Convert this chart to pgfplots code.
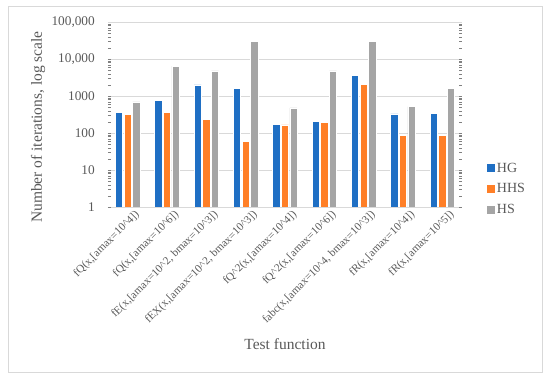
\documentclass[border=0pt]{standalone}
\usepackage{fontspec}
\setmainfont{Liberation Serif}
\usepackage{pgfplots}
\pgfplotsset{compat=1.18}
\definecolor{cHG}{HTML}{1F6FC4}
\definecolor{cHHS}{HTML}{FF7F27}
\definecolor{cHS}{HTML}{A5A5A5}
\definecolor{txt}{HTML}{595959}
\definecolor{grd}{HTML}{D9D9D9}
\begin{document}
\begin{tikzpicture}
\useasboundingbox (0,0) rectangle (550pt,379pt);
\draw[grd, line width=0.8pt] (8pt,7pt) rectangle (542pt,373pt);
\begin{axis}[
  at={(108pt,172pt)}, anchor=south west,
  scale only axis, width=354pt, height=185pt,
  ymode=log, ymin=1, ymax=100000,
  xmin=-0.5, xmax=8.5,
  ybar=1.3pt, bar width=7.3pt,
  axis line style={draw=none},
  major tick length=0pt,
  ymajorgrids, grid style={grd, line width=0.8pt},
  ytick={1,10,100,1000,10000,100000},
  yticklabels={1,10,100,1000,{10,000},{100,000}},
  xtick={0,...,8},
  xticklabels={{fQ(x,[amax=10\^{}4])},{fQ(x,[amax=10\^{}6])},{fE(x,[amax=10\^{}2, bmax=10\^{}3])},{fEX(x,[amax=10\^{}2, bmax=10\^{}3])},{fQ\^{}2(x,[amax=10\^{}4])},{fQ\^{}2(x,[amax=10\^{}6])},{fabc(x,[amax=10\^{}4, bmax=10\^{}3])},{fR(x,[amax=10\^{}4])},{fR(x,[amax=10\^{}5])}},
  x tick label style={rotate=45, anchor=north east, font=\fontsize{11.2}{12}\selectfont, inner sep=0pt, xshift=3pt, yshift=-6pt, text=txt},
  y tick label style={font=\fontsize{13.3}{15}\selectfont, inner sep=0pt, xshift=-13pt, text=txt},
  xlabel={Test function},
  ylabel={Number of iterations, log scale},
  xlabel style={at={(rel axis cs:0.5,-0.7405)}, anchor=center, font=\fontsize{15.5}{17}\selectfont, text=txt},
  ylabel style={at={(rel axis cs:-0.1977,0.432)}, anchor=center, font=\fontsize{15.5}{17}\selectfont, text=txt},
  legend style={at={(rel axis cs:1.07,0.097)}, anchor=west, draw=none, fill=none, font=\fontsize{14}{15}\selectfont, text=txt, row sep=6pt, inner sep=0pt},
  legend cell align=left,
  legend image code/.code={\fill[#1, draw=none] (0pt,-4pt) rectangle (8pt,4pt);},
  every axis plot/.append style={draw=white, line width=0.5pt},
]
\addplot[fill=cHG] coordinates {(0,355) (1,745) (2,1990) (3,1610) (4,175) (5,207) (6,3620) (7,327) (8,333)};
\addplot[fill=cHHS] coordinates {(0,325) (1,360) (2,235) (3,58) (4,165) (5,190) (6,2100) (7,87) (8,88)};
\addplot[fill=cHS] coordinates {(0,690) (1,6450) (2,4800) (3,29300) (4,480) (5,4750) (6,30000) (7,513) (8,1580)};
\legend{HG,HHS,HS}
\end{axis}
\end{tikzpicture}
\end{document}
